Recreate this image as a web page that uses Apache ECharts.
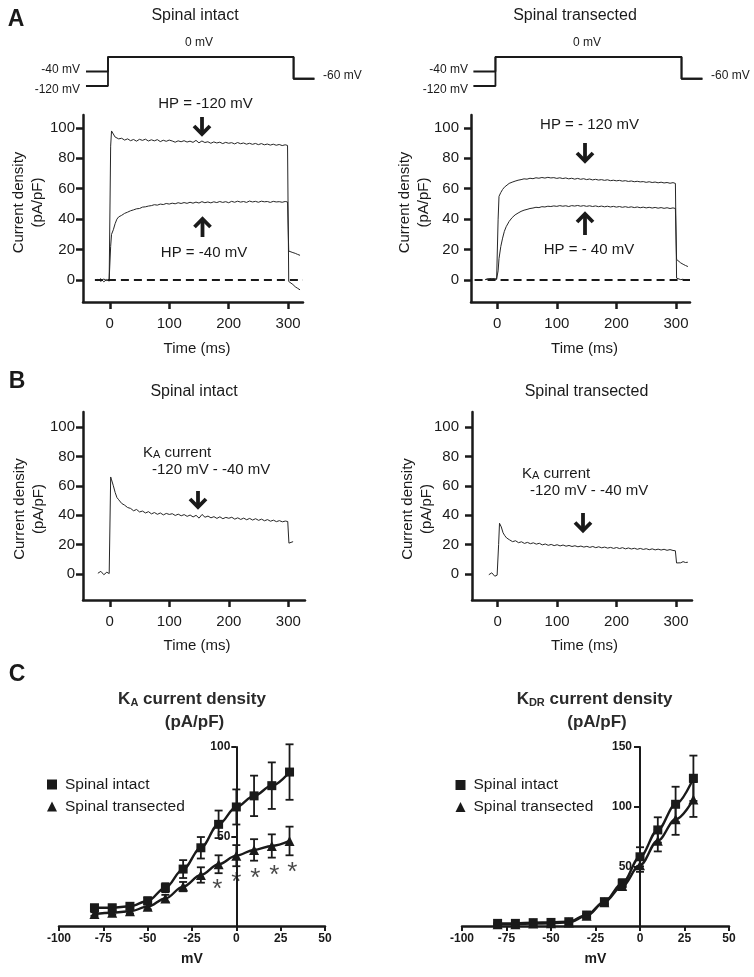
<!DOCTYPE html>
<html><head><meta charset="utf-8">
<script src="https://cdn.jsdelivr.net/npm/echarts@6/dist/echarts.min.js"></script>
<style>html,body{margin:0;padding:0;background:#fff}#c{width:754px;height:977px}</style>
</head><body><div id="c"></div>
<script>
const FONT = '"Liberation Sans", Arial, Helvetica, sans-serif';
const INK = '#1a1a1a';
const TR = '#262626';

// ---------- Panel A / B : current traces (time in ms, current density pA/pF) ----------
const traceTime = [-20,-15,-10,-5,-1,0,1.5,3,6,9,12,15,
  20,25,30,35,40,45,50,55,60,65,70,75,80,85,90,95,100,105,110,115,120,125,130,135,140,145,150,155,
  160,165,170,175,180,185,190,195,200,205,210,215,220,225,230,235,240,245,250,255,260,265,270,275,280,285,290,295,
  299,301,304,308,312,316,320];

const intactHP120 = [-0.5,0.8,-1.2,0.3,-0.8, 0,88,98,96,94,93.5,92.8,
  93.2,92.0,92.8,91.6,92.4,91.3,92.5,91.8,92.6,91.4, 92.2,91.5,92.3,91.0,91.9,91.2,92.0,91.4,90.6,91.5,
  90.9,91.6,90.7,91.3,90.5,91.8,90.2,91.4,90.4,90.9, 89.9,90.8,90.1,90.6,89.7,90.5,89.9,90.3,89.5,90.4,
  89.6,90.1,89.3,89.9,89.2,89.8,89.0,89.7,88.9,89.4, 88.7,89.3,88.6,89.1,88.4,88.9,
  88.5,-1,-2,-3,-4.5,-5.5,-6.5];
const intactHP40 = [0.4,-0.9,0.6,-0.4,0.2, 0,22,30,33,37,40,41.5,
  42.5,43.8,44.6,45.5,46.1,46.8,47.0,47.9,48.1,48.6, 48.9,49.5,49.2,49.9,49.6,50.3,49.9,50.5,50.1,50.8,
  50.3,50.9,50.4,51.1,50.5,51.2,50.6,51.5,50.8,51.3, 50.7,51.4,50.9,51.6,51.0,51.5,50.8,51.7,51.1,51.8,
  51.2,51.6,51.0,51.9,51.3,51.7,51.1,51.8,51.4,51.6, 51.0,51.7,51.3,51.5,51.1,51.6,
  51.3,19,18.5,18,17.5,16.8,16.2];
const transHP120 = [0.3,0.8,0.5,1.0,0.4, 0.5,40,55,57.5,59.5,61,62.2,
  63.5,64.3,65.0,65.6,66.0,66.5,66.3,66.9,66.6,67.2, 66.9,67.4,67.0,67.5,67.1,67.3,66.8,67.2,66.7,67.1,
  66.5,66.9,66.3,66.8,66.2,66.6,66.0,66.4,65.8,66.2, 65.7,66.0,65.5,65.9,65.3,65.6,65.2,65.5,65.0,65.3,
  64.8,65.1,64.6,64.9,64.5,64.7,64.2,64.6,64.1,64.4, 63.9,64.3,63.8,64.1,63.6,64.0,
  63.5,1.2,0.6,0.2,0.5,null,null];
const transHP40 = [0.2,0.6,1.0,0.4,0.7, 0.5,6,14,22,27.5,32,35,
  38.5,41.0,42.8,44.0,45.1,45.9,46.4,47.0,47.3,47.8, 47.6,48.2,48.0,48.5,48.3,48.7,48.4,48.9,48.5,48.8,
  48.3,48.9,48.6,49.0,48.5,48.9,48.4,48.8,48.3,48.7, 48.2,48.6,48.1,48.5,48.0,48.4,47.9,48.3,47.8,48.2,
  47.7,48.1,47.6,48.0,47.5,47.9,47.4,47.8,47.3,47.7, 47.2,47.6,47.1,47.5,47.0,47.4,
  47.0,13.5,12.5,11.2,10.3,9.5,8.8];
const intactKA = [0.5,1.8,-0.5,1.2,0.3, 0.5,66,64,60,55.5,52,50.5,
  48.0,46.8,45.2,44.6,43.0,43.9,42.2,42.8,41.5,42.4, 40.9,41.8,40.6,41.5,40.2,41.2,40.5,41.0,39.8,40.7,
  39.6,40.4,39.2,40.1,38.8,39.9,38.0,40.5,38.6,39.4, 38.2,39.0,37.8,38.9,37.6,38.5,37.9,38.6,37.3,38.2,
  37.1,38.0,36.9,37.8,36.7,37.6,36.5,37.3,36.2,37.0, 35.9,36.6,35.6,36.3,35.5,36.0,
  35.7,21,20.5,22,null,null,null];
const transKA = [null,-0.5,0.8,-1.5,-0.8, -0.5,20,34.5,32,28,26,24.5,
  23.2,22.0,22.6,21.3,21.9,20.8,21.5,20.6,21.2,20.3, 20.9,19.8,20.4,19.5,20.1,19.3,19.9,19.1,19.7,18.9,
  19.4,18.7,19.2,18.5,19.0,18.3,18.8,18.1,18.7,17.9, 18.5,17.8,18.3,17.6,18.1,17.4,18.0,17.3,17.9,17.1,
  17.7,17.0,17.5,16.8,17.4,16.7,17.2,16.5,17.1,16.4, 16.9,16.3,16.8,16.1,16.6,16.0,
  15.8,7.5,8.2,7.6,8.4,7.8,8.0];
const timeTicks = [0,100,200,300];
const currentTicks = [0,20,40,60,80,100];

// ---------- voltage protocol (schematic) ----------
const protoLevels = ['-120 mV','-60 mV','-40 mV',' ','0 mV'];
const protoTime = [-40,-3,-3,309,309,344];
const protoHP40 = ['-40 mV','-40 mV','0 mV','0 mV','-60 mV','-60 mV'];
const protoHP120 = ['-120 mV','-120 mV','0 mV','0 mV','-60 mV','-60 mV'];

// ---------- Panel C : I-V relations ----------
const voltages = [-80,-70,-60,-50,-40,-30,-20,-10,0,10,20,30];
const kaIntact    = [10.2,10.2,11,14,21.4,31.8,43.7,56.8,66.5,72.7,78.4,86];
const kaIntactErr = [1.5,1.5,1.5,2,2.5,5,6,7.7,9.8,11.3,13,15.5];
const kaTrans     = [6.7,7.4,8.2,10.8,15.4,22,28.5,34.5,39.3,42.5,44.7,47.5];
const kaTransErr  = [1,1,1.2,1.5,2,2.6,4.3,5,5.9,6,6.5,8];
const kdrIntact    = [2.2,2.2,2.8,3,3.6,9.2,20.4,35.8,58,80.5,102,123.8];
const kdrIntactErr = [0.5,0.5,0.5,0.5,0.5,1,1.5,3.4,8,10.6,14.7,19];
const kdrTrans     = [1.5,1.5,2,2.2,3,8.5,20,33.5,51,71.5,89.4,106];
const kdrTransErr  = [0.5,0.5,0.5,0.5,0.5,1,1.5,3,5.6,9,13,14.6];
const starV = [-10.7,0,10.7,21.4,31.6];
const starY = [23.5,27.4,29.6,31.3,33.0];

const pairs = (t, v) => t.map((x, i) => [x, v[i]]).filter(p => p[1] !== null && p[1] !== undefined);
const triples = (t, v, e) => t.map((x, i) => [x, v[i], e[i]]);

function traceX(gi, min, max, nameGap, pad) {
  return {gridIndex: gi, type: 'value', min, max,
    axisLine: {show: true, onZero: false, lineStyle: {color: INK, width: 2.5}},
    axisTick: {show: true, length: 7, inside: false, customValues: timeTicks, lineStyle: {color: INK, width: 2.5}},
    axisLabel: {customValues: timeTicks, fontSize: 15, color: INK, fontFamily: FONT, margin: 14},
    splitLine: {show: false},
    name: 'Time (ms)', nameLocation: 'middle', nameGap,
    nameTextStyle: {fontSize: 15, color: INK, fontFamily: FONT, padding: [0, 0, 0, pad]}};
}
function traceY(gi, min, max, margin) {
  return {gridIndex: gi, type: 'value', min, max,
    axisLine: {show: true, onZero: false, lineStyle: {color: INK, width: 2.5}},
    axisTick: {show: true, length: 7, customValues: currentTicks, lineStyle: {color: INK, width: 2.5}},
    axisLabel: {customValues: currentTicks, fontSize: 15, color: INK, fontFamily: FONT, margin},
    splitLine: {show: false}};
}
function ivX(gi) {
  return {gridIndex: gi, type: 'value', min: -100, max: 50, interval: 25,
    axisLine: {show: true, onZero: false, lineStyle: {color: INK, width: 2.5}},
    axisTick: {show: true, length: 5, lineStyle: {color: INK, width: 2}},
    axisLabel: {fontSize: 12, fontWeight: 'bold', color: INK, fontFamily: FONT, margin: 7},
    splitLine: {show: false},
    name: 'mV', nameLocation: 'middle', nameGap: 26,
    nameTextStyle: {fontSize: 14, fontWeight: 'bold', color: INK, fontFamily: FONT}};
}
// y axis drawn through 0 mV: shifted right from the grid's left edge
function ivY(gi, max, ticks, margin, tlen, shift) {
  return {gridIndex: gi, type: 'value', min: 0, max, position: 'left', offset: -shift,
    axisLine: {show: true, onZero: false, lineStyle: {color: INK, width: 2}},
    axisTick: {show: true, length: tlen, customValues: ticks, lineStyle: {color: INK, width: 2}},
    axisLabel: {customValues: ticks, fontSize: 12, fontWeight: 'bold', color: INK, fontFamily: FONT, margin},
    splitLine: {show: false}};
}
function protoX(gi, min, max) {
  return {gridIndex: gi, type: 'value', min, max, show: false};
}
function protoY(gi) {
  return {gridIndex: gi, type: 'category', data: protoLevels, boundaryGap: false, show: false};
}

function trace(gi, data, zero) {
  const s = {type: 'line', xAxisIndex: gi, yAxisIndex: gi, data, symbol: 'none', showSymbol: false,
    silent: true, lineStyle: {width: 1, color: TR}, z: 3};
  if (zero) {
    s.markLine = {symbol: ['none', 'none'], silent: true, label: {show: false}, animation: false,
      lineStyle: {type: [8, 5], width: 2, color: INK},
      data: [[{coord: [zero[0], 0]}, {coord: [zero[1], 0]}]]};
  }
  return s;
}
function errRender(params, api) {
  const x = api.value(0), y = api.value(1), e = api.value(2);
  const hi = api.coord([x, y + e]), lo = api.coord([x, y - e]);
  const w = 4, st = {stroke: INK, lineWidth: 1.8};
  return {type: 'group', children: [
    {type: 'line', shape: {x1: hi[0], y1: hi[1], x2: lo[0], y2: lo[1]}, style: st},
    {type: 'line', shape: {x1: hi[0] - w, y1: hi[1], x2: hi[0] + w, y2: hi[1]}, style: st},
    {type: 'line', shape: {x1: lo[0] - w, y1: lo[1], x2: lo[0] + w, y2: lo[1]}, style: st}]};
}
function errSeries(gi, data) {
  return {type: 'custom', xAxisIndex: gi, yAxisIndex: gi, clip: false, silent: true, renderItem: errRender, data, z: 2};
}
function ivLine(gi, name, data, sym, size) {
  return {type: 'line', name, xAxisIndex: gi, yAxisIndex: gi, data, symbol: sym, symbolSize: size,
    showSymbol: true, smooth: 0.35, smoothMonotone: 'x', silent: true,
    lineStyle: {width: 2.4, color: INK}, itemStyle: {color: INK}, z: 4};
}
function protoLine(gi, data) {
  return {type: 'line', xAxisIndex: gi, yAxisIndex: gi, data, symbol: 'none', silent: true,
    lineStyle: {width: 1.8, color: INK}};
}

// ---------- text / annotation helpers ----------
function txt(x, y, text, size, opt) {
  opt = opt || {};
  return {type: 'text', x, y, silent: true, rotation: opt.rot || 0,
    style: {text, fill: opt.color || INK, fontSize: size, fontFamily: FONT,
      fontWeight: opt.bold ? 'bold' : 'normal', align: opt.align || 'center',
      verticalAlign: 'middle', lineHeight: opt.lh || size, rich: opt.rich}};
}
function arrow(x, yTail, yTip) {
  const d = yTip > yTail ? 1 : -1;
  const st = {stroke: INK, lineWidth: 3.8, fill: null, lineJoin: 'miter', lineCap: 'butt'};
  return {type: 'group', silent: true, children: [
    {type: 'polyline', shape: {points: [[x, yTail], [x, yTip - d * 2]]}, style: st},
    {type: 'polyline', shape: {points: [[x - 8, yTip - d * 9], [x, yTip - d * 1], [x + 8, yTip - d * 9]]}, style: st}]};
}
const kaRich = {k: {fontSize: 15, fontFamily: FONT, fill: INK, verticalAlign: 'bottom', lineHeight: 17},
                a: {fontSize: 11, fontFamily: FONT, fill: INK, verticalAlign: 'bottom', lineHeight: 14}};
const titleRich = {k: {fontSize: 17, fontWeight: 'bold', fontFamily: FONT, fill: '#2a2a2a', verticalAlign: 'bottom', lineHeight: 20},
                   s: {fontSize: 11, fontWeight: 'bold', fontFamily: FONT, fill: '#2a2a2a', verticalAlign: 'bottom', lineHeight: 10}};

const graphics = [
  txt(16, 20, 'A', 23, {bold: true}),
  txt(17, 382, 'B', 23, {bold: true}),
  txt(17, 675, 'C', 23, {bold: true}),
  txt(195, 16, 'Spinal intact', 16),
  txt(575, 16, 'Spinal transected', 16),
  txt(194, 391.5, 'Spinal intact', 16),
  txt(586.5, 391.5, 'Spinal transected', 16),
  // protocol labels
  txt(199, 43, '0 mV', 12), txt(80, 70, '-40 mV', 12, {align: 'right'}), txt(80, 89.5, '-120 mV', 12, {align: 'right'}),
  txt(323, 76, '-60 mV', 12, {align: 'left'}),
  txt(587, 43, '0 mV', 12), txt(468, 70, '-40 mV', 12, {align: 'right'}), txt(468, 89.5, '-120 mV', 12, {align: 'right'}),
  txt(711, 76, '-60 mV', 12, {align: 'left'}),
  // y-axis titles
  txt(28.5, 202.5, 'Current density\n(pA/pF)', 15, {rot: Math.PI / 2, lh: 18.5}),
  txt(414.5, 202.5, 'Current density\n(pA/pF)', 15, {rot: Math.PI / 2, lh: 18.5}),
  txt(29.5, 509, 'Current density\n(pA/pF)', 15, {rot: Math.PI / 2, lh: 18.5}),
  txt(417.5, 509, 'Current density\n(pA/pF)', 15, {rot: Math.PI / 2, lh: 18.5}),
  // A annotations
  txt(205.5, 104, 'HP = -120 mV', 15), arrow(202, 117, 135),
  txt(204, 253, 'HP = -40 mV', 15), arrow(202.5, 237, 218),
  txt(589.5, 125, 'HP = - 120 mV', 15), arrow(585, 143, 162),
  txt(589, 250, 'HP = - 40 mV', 15), arrow(585, 235, 213),
  // B annotations
  txt(143, 452, '{k|K}{a|A}{k| current}', 15, {align: 'left', rich: kaRich}),
  txt(152, 470, '-120 mV - -40 mV', 15, {align: 'left'}),
  arrow(198, 491, 508),
  txt(522, 472.5, '{k|K}{a|A}{k| current}', 15, {align: 'left', rich: kaRich}),
  txt(530, 490.5, '-120 mV - -40 mV', 15, {align: 'left'}),
  arrow(583, 513, 531.5),
  // C titles
  txt(192, 698, '{k|K}{s|A}{k| current density}', 17, {rich: titleRich}),
  txt(194.5, 722, '(pA/pF)', 17, {bold: true, color: '#2a2a2a'}),
  txt(594.5, 698, '{k|K}{s|DR}{k| current density}', 17, {rich: titleRich}),
  txt(597, 722, '(pA/pF)', 17, {bold: true, color: '#2a2a2a'})
];

const legendBase = {orient: 'vertical', padding: 0, itemWidth: 10, itemHeight: 10, itemGap: 6, selectedMode: false,
  textStyle: {fontSize: 15.5, color: INK, fontFamily: FONT, lineHeight: 16, padding: [0, 0, 0, 3]},
  data: [{name: 'Spinal intact', icon: 'rect'}, {name: 'Spinal transected', icon: 'triangle'}]};

const option = {
  animation: false,
  backgroundColor: '#fff',
  grid: [
    {left: 83, top: 115, width: 220, height: 187, outerBoundsMode: 'none', containLabel: false},
    {left: 471, top: 115, width: 219, height: 187, outerBoundsMode: 'none', containLabel: false},
    {left: 83, top: 412, width: 222, height: 188, outerBoundsMode: 'none', containLabel: false},
    {left: 472, top: 412, width: 220, height: 188, outerBoundsMode: 'none', containLabel: false},
    {left: 59, top: 747, width: 266, height: 179, outerBoundsMode: 'none', containLabel: false},
    {left: 462, top: 747, width: 267, height: 179, outerBoundsMode: 'none', containLabel: false},
    {left: 83, top: 57, width: 232, height: 29, outerBoundsMode: 'none', containLabel: false},
    {left: 471, top: 57, width: 232, height: 29, outerBoundsMode: 'none', containLabel: false}
  ],
  xAxis: [
    traceX(0, -45, 325, 39, 8), traceX(1, -44, 323.5, 39, 8),
    traceX(2, -45, 328, 38, 6), traceX(3, -43.3, 327, 38, 5),
    ivX(4), ivX(5),
    protoX(6, -45, 345), protoX(7, -44, 345)
  ],
  yAxis: [
    traceY(0, -14.5, 108.5, 8), traceY(1, -14.5, 108.5, 12),
    traceY(2, -17.7, 110.2, 8), traceY(3, -17.7, 110.2, 13),
    ivY(4, 100, [50, 100], 6, 5, 177.3), ivY(5, 150, [50, 100, 150], 8, 6, 178),
    protoY(6), protoY(7)
  ],
  legend: [
    Object.assign({left: 47, top: 776.5}, legendBase),
    Object.assign({left: 455.5, top: 777}, legendBase)
  ],
  graphic: graphics,
  series: [
    trace(0, pairs(traceTime, intactHP120), [-25, 325]),
    trace(0, pairs(traceTime, intactHP40)),
    trace(1, pairs(traceTime, transHP120), [-38, 323.5]),
    trace(1, pairs(traceTime, transHP40)),
    trace(2, pairs(traceTime, intactKA)),
    trace(3, pairs(traceTime, transKA)),
    protoLine(6, pairs(protoTime, protoHP40)), protoLine(6, pairs(protoTime, protoHP120)),
    protoLine(7, pairs(protoTime, protoHP40)), protoLine(7, pairs(protoTime, protoHP120)),
    errSeries(4, triples(voltages, kaIntact, kaIntactErr)),
    errSeries(4, triples(voltages, kaTrans, kaTransErr)),
    ivLine(4, 'Spinal intact', pairs(voltages, kaIntact), 'rect', 9),
    ivLine(4, 'Spinal transected', pairs(voltages, kaTrans), 'triangle', 10),
    {type: 'scatter', xAxisIndex: 4, yAxisIndex: 4, silent: true, data: pairs(starV, starY),
      symbolSize: 1, itemStyle: {color: 'rgba(0,0,0,0)'}, z: 5,
      label: {show: true, formatter: '*', position: 'inside', offset: [0, 5.5], fontSize: 26, color: INK, fontFamily: FONT}},
    errSeries(5, triples(voltages, kdrIntact, kdrIntactErr)),
    errSeries(5, triples(voltages, kdrTrans, kdrTransErr)),
    ivLine(5, 'Spinal intact', pairs(voltages, kdrIntact), 'rect', 9),
    ivLine(5, 'Spinal transected', pairs(voltages, kdrTrans), 'triangle', 10)
  ]
};
const chart = echarts.init(document.getElementById('c'), null, {renderer: 'canvas'});
chart.setOption(option);
</script>
</body></html>
